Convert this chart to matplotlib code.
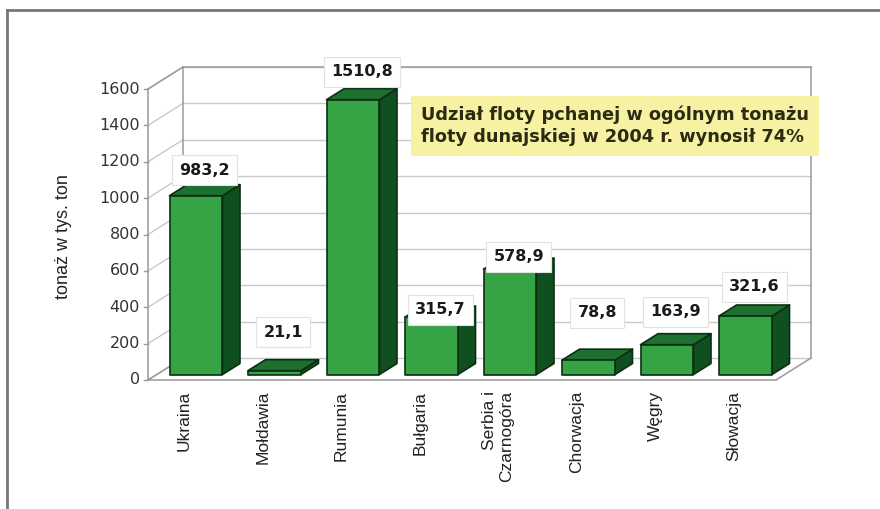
import matplotlib
matplotlib.use("Agg")
import matplotlib.pyplot as plt
from matplotlib.patches import Polygon
from matplotlib.lines import Line2D

# --- data -------------------------------------------------------------
countries = ["Ukraina", "Mołdawia", "Rumunia", "Bułgaria",
             "Serbia i\nCzarnogóra", "Chorwacja", "Węgry", "Słowacja"]
tonnage = [983.2, 21.1, 1510.8, 315.7, 578.9, 78.8, 163.9, 321.6]
value_labels = ["983,2", "21,1", "1510,8", "315,7", "578,9", "78,8", "163,9", "321,6"]
y_ticks = [0, 200, 400, 600, 800, 1000, 1200, 1400, 1600]
y_title = "tonaż w tys. ton"
note = "Udział floty pchanej w ogólnym tonażu\nfloty dunajskiej w 2004 r. wynosił 74%"

# heights (value units, mid-depth plane) where the value boxes sit
label_height = [1094, 203, 1633, 325, 616, 308, 314, 451]

# --- figure / pseudo-3D frame ----------------------------------------
W_PX, H_PX = 880, 509
fig = plt.figure(figsize=(W_PX / 100, H_PX / 100), dpi=100)
ax = fig.add_axes([0, 0, 1, 1])
ax.set_axis_off()

LEFT_PX, CAT_PX = 148.0, 78.5          # front-left corner, category width
BASE_PX = 509 - 380.0                  # baseline height from bottom
VPX = 291.0 / 1600.0                   # pixels per value unit
ax.set_xlim(-0.5 - LEFT_PX / CAT_PX, -0.5 + (W_PX - LEFT_PX) / CAT_PX)
ax.set_ylim(-BASE_PX / VPX, (H_PX - BASE_PX) / VPX)

DX = 35.0 / CAT_PX                     # full depth, in data units
DY = 22.0 / VPX
VMAX = 1600
n = len(countries)
x_lo, x_hi = -0.5, n - 0.5


def P(x, v, d):
    return (x + d * DX, v + d * DY)


grid_c = "#c9c9c9"
wall_c = "#9a9a9a"

# back wall and left wall gridlines
for t in y_ticks:
    ax.add_line(Line2D(*zip(P(x_lo, t, 1), P(x_hi, t, 1)), color=grid_c, lw=1, zorder=1))
    ax.add_line(Line2D(*zip(P(x_lo, t, 0), P(x_lo, t, 1)), color=grid_c, lw=1, zorder=1))

# wall outlines
outline = [
    (P(x_lo, VMAX, 1), P(x_hi, VMAX, 1)),
    (P(x_hi, VMAX, 1), P(x_hi, 0, 1)),
    (P(x_lo, VMAX, 0), P(x_lo, VMAX, 1)),
    (P(x_lo, 0, 1), P(x_lo, VMAX, 1)),
    (P(x_lo, 0, 0), P(x_lo, 0, 1)),
    (P(x_hi, 0, 0), P(x_hi, 0, 1)),
    (P(x_lo, 0, 0), P(x_hi, 0, 0)),
    (P(x_lo, 0, 0), P(x_lo, VMAX, 0)),
]
for a, b in outline:
    ax.add_line(Line2D(*zip(a, b), color=wall_c, lw=1.1, zorder=2))

# value axis ticks and labels
for t in y_ticks:
    ax.add_line(Line2D([x_lo - 4 / CAT_PX, x_lo], [t, t], color=wall_c, lw=1, zorder=2))
    ax.annotate(str(t), (x_lo, t), xytext=(-8, 0), textcoords="offset pixels",
                ha="right", va="center", fontsize=11.5, color="#333333",
                family="DejaVu Sans")

# --- bars --------------------------------------------------------------
BW = 0.675
D0, D1 = 0.25, 0.75
front_c, top_c, side_c, edge_c = "#36a345", "#1e7030", "#0f4f20", "#0b2e12"
for i, val in enumerate(tonnage):
    xl, xr = i - BW / 2, i + BW / 2
    side = [P(xr, 0, D0), P(xr, 0, D1), P(xr, val, D1), P(xr, val, D0)]
    top = [P(xl, val, D0), P(xr, val, D0), P(xr, val, D1), P(xl, val, D1)]
    front = [P(xl, 0, D0), P(xr, 0, D0), P(xr, val, D0), P(xl, val, D0)]
    for poly, c in ((side, side_c), (top, top_c), (front, front_c)):
        ax.add_patch(Polygon(poly, closed=True, facecolor=c, edgecolor=edge_c,
                             lw=1.2, joinstyle="round", zorder=3))

# value boxes
for i, (lab, h) in enumerate(zip(value_labels, label_height)):
    ax.text(*P(i, h, 0.5), lab, ha="center", va="center", fontsize=11.5,
            fontweight="bold", color="#1a1a1a", family="DejaVu Sans", zorder=5,
            bbox=dict(boxstyle="square,pad=0.45", facecolor="white",
                      edgecolor="#e2e2e2", lw=0.8))

# category labels
for i, name in enumerate(countries):
    ax.annotate(name, (i, 0), xytext=(-3, -11), textcoords="offset pixels",
                rotation=90, ha="center", va="top", multialignment="right",
                fontsize=12.5, color="#222222", family="Liberation Sans")

# value axis title
fig.text(63 / W_PX, 1 - 237 / H_PX, y_title, rotation=90, ha="center", va="center",
         fontsize=13, color="#222222", family="Liberation Sans")

# note box
fig.text(615 / W_PX, 1 - 126 / H_PX, note, ha="center", va="center",
         multialignment="left", fontsize=12.8, fontweight="bold", color="#2b2a12",
         family="DejaVu Sans", linespacing=1.3, zorder=6,
         bbox=dict(boxstyle="square,pad=0.55", facecolor="#f6f1a3", edgecolor="none"))

# page frame (left and top rules)
fig.add_artist(Line2D([7 / W_PX, 7 / W_PX], [0, 1 - 10 / H_PX], color="#777777", lw=2))
fig.add_artist(Line2D([7 / W_PX, 1], [1 - 10 / H_PX, 1 - 10 / H_PX], color="#777777", lw=2))

fig.savefig("out.png", dpi=100, facecolor="white")
